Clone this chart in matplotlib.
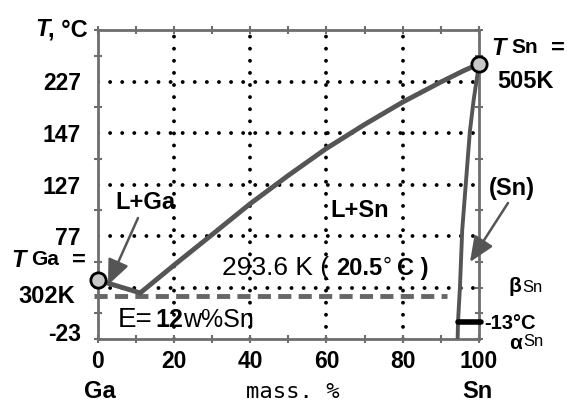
import matplotlib
matplotlib.use("Agg")
import matplotlib.pyplot as plt

plt.rcParams['font.family'] = ['Liberation Sans', 'DejaVu Sans']

# Ga-Sn phase diagram (schematic: vertical axis in grid steps, labelled in degC)
liq_x = [0, 11.2]                       # Ga melting point -> eutectic
liq_y = [2.29, 1.79]
liq2_x = [11.2, 20, 30, 40, 50, 60, 70, 80, 90, 96, 100]   # eutectic -> Sn melting point
liq2_y = [1.79, 2.86, 4.05, 5.25, 6.35, 7.4, 8.33, 9.2, 9.98, 10.42, 10.68]
sol_x = [100, 98.6, 97.6, 95.6, 95.0, 94.5, 94.4]       # (Sn) solvus/solidus
sol_y = [10.68, 9.28, 8.05, 4.23, 2.0, 0.67, 0.0]
eut_x = [-1, 91.6]
eut_y = [1.68, 1.68]
ab_x = [94.4, 100.4]                    # alpha/beta Sn transition at -13 C
ab_y = [0.67, 0.67]
melt_x = [0, 100]
melt_y = [2.29, 10.68]

ytick_pos = [0.27, 4, 6, 8, 10]
ytick_lab = ['-23', '77', '127', '147', '227']
xtick_pos = [0, 20, 40, 60, 80, 100]
grid_x = [20, 40, 60, 80]
grid_y = [2, 4, 6, 8, 10]

W, H = 567, 403
fig = plt.figure(figsize=(W / 100, H / 100), dpi=100)
ax = fig.add_axes([97.5 / W, (H - 339) / H, (479 - 97.5) / W, (339 - 30) / H])
ax.set_xlim(0, 100)
ax.set_ylim(0, 12)

dots = (0, (0.01, 3.1))
for gx in grid_x:
    ax.axvline(gx, color='black', lw=2.8, ls=dots, dash_capstyle='round', zorder=1)
for gy in grid_y:
    ax.axhline(gy, color='black', lw=2.8, ls=dots, dash_capstyle='round', zorder=1)

curve = '#555555'
ax.plot(eut_x, eut_y, color='#666666', lw=3.5, ls=(0, (2.7, 1.5)), zorder=2, clip_on=False)
ax.plot(liq_x, liq_y, color=curve, lw=3.5, zorder=3, solid_capstyle='round')
ax.plot(liq2_x, liq2_y, color=curve, lw=3.5, zorder=3, solid_capstyle='round',
        solid_joinstyle='round')
ax.plot(sol_x, sol_y, color=curve, lw=2.8, zorder=3, solid_joinstyle='round')
ax.plot(ab_x, ab_y, color='black', lw=4, zorder=4, solid_capstyle='round', clip_on=False)
ax.plot(melt_x, melt_y, 'o', ms=11, mfc='#c8c8c8', mec='black', mew=2, zorder=5, clip_on=False)

for s in ax.spines.values():
    s.set_color('#6e6e6e')
    s.set_linewidth(2)

ax.set_xticks(xtick_pos)
ax.set_xticklabels([str(v) for v in xtick_pos], fontsize=16.5, fontweight='bold')
ax.set_xticks(range(10, 100, 20), minor=True)
ax.set_yticks(ytick_pos)
ax.set_yticklabels(ytick_lab, fontsize=16.5, fontweight='bold')
ax.set_yticks(range(0, 13), minor=True)
ax.tick_params(axis='x', which='both', direction='inout', length=6, width=1.5,
               color='#6e6e6e', top=True, pad=5)
ax.tick_params(axis='y', which='major', length=0, pad=12)
ax.tick_params(axis='y', which='minor', direction='inout', length=6, width=1.5,
               color='#6e6e6e', right=True)


def put(x, y, s, size, **kw):
    kw.setdefault('va', 'baseline')
    fig.text(x / W, 1 - y / H, s, fontsize=size, **kw)


put(35, 36, 'T', 17, fontweight='bold', style='italic')
put(48, 36, ', °C', 17, fontweight='bold')

put(11, 267, 'T', 17, fontweight='bold', style='italic')
put(31, 265, 'Ga', 15, fontweight='bold')
put(72, 267, '=', 17, fontweight='bold')
put(47, 303, '302K', 17, fontweight='bold', ha='center')

put(491, 55, 'T', 17, fontweight='bold', style='italic')
put(511, 53, 'Sn', 15, fontweight='bold')
put(551, 55, '=', 17, fontweight='bold')
put(526, 88, '505K', 17, fontweight='bold', ha='center')

put(145, 209, 'L+Ga', 17, fontweight='bold', ha='center')
put(360, 217, 'L+Sn', 17, fontweight='bold', ha='center')

put(222, 275, '293.6 K (', 19)
put(336, 275, '20.5', 17, fontweight='bold')
put(383, 273, '°', 16)
put(397, 275, 'C )', 17, fontweight='bold')

put(118, 327, 'E=', 20)
put(155, 327, '12', 18, fontweight='bold')
put(183, 327, 'w%Sn', 18)

put(512, 195, '(Sn)', 17, fontweight='bold', ha='center')
put(508, 292, 'β', 15, fontweight='bold')
put(522, 292, 'Sn', 12)
put(484, 329, '-13°C', 14.5, fontweight='bold')
put(509, 349, 'α', 15, fontweight='bold')
put(523, 346, 'Sn', 12)

put(100, 398, 'Ga', 17, fontweight='bold', ha='center')
put(293, 398, 'mass. %', 16, family='DejaVu Sans Mono', ha='center')
put(477, 398, 'Sn', 17, fontweight='bold', ha='center')

arrow = dict(arrowstyle='-|>,head_length=0.7,head_width=0.3', color='#555555', lw=1.8,
             mutation_scale=22, shrinkA=0, shrinkB=0)
ax.annotate('', xy=(108, H - 285), xytext=(138, H - 218), xycoords='figure pixels',
            textcoords='figure pixels', arrowprops=arrow)
ax.annotate('', xy=(470, H - 262), xytext=(508, H - 203), xycoords='figure pixels',
            textcoords='figure pixels', arrowprops=arrow)

fig.savefig('out.png', dpi=100)
